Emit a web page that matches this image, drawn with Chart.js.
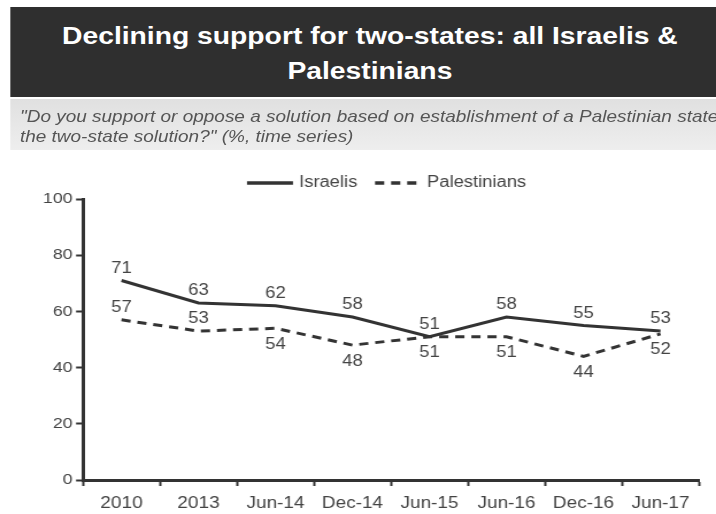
<!DOCTYPE html>
<html>
<head>
<meta charset="utf-8">
<script src="https://cdn.jsdelivr.net/npm/chart.js@4"></script>
<style>
  html, body { margin: 0; padding: 0; background: #fff; width: 716px; height: 514px; overflow: hidden; }
  #page { position: absolute; left: 0; top: 0; width: 623px; height: 514px; transform-origin: 0 0; transform: scaleX(1.1493); }
  #header { position: absolute; left: 8.7px; top: 7px; width: 614.3px; height: 90px; background: #2f2f2f;
    color: #fff; font-family: "Liberation Sans", Arial, sans-serif; font-weight: bold; font-size: 24.6px;
    text-align: center; line-height: 35px; box-sizing: border-box; padding-top: 11px; padding-left: 12px; }
  #sub { position: absolute; left: 8.7px; top: 99px; width: 614.3px; height: 51px;
    background: linear-gradient(#e0e0e0, #eeeeee); color: #555; font-family: "Liberation Sans", Arial, sans-serif;
    font-style: italic; font-size: 16.5px; line-height: 20px; white-space: nowrap; overflow: hidden;
    box-sizing: border-box; padding-left: 8.7px; padding-top: 7px; }
  #wrap { position: absolute; left: 0; top: 150px; width: 623px; height: 364px; }
</style>
</head>
<body>
<div id="page">
<div id="header">Declining support for two-states: all Israelis &amp;<br>Palestinians</div>
<div id="sub">"Do you support or oppose a solution based on establishment of a Palestinian state alongside Israel, known as<br>the two-state solution?" (%, time series)</div>
<div id="wrap"><canvas id="c"></canvas></div>
</div>
<script>
const categories = ["2010", "2013", "Jun-14", "Dec-14", "Jun-15", "Jun-16", "Dec-16", "Jun-17"];
const israelis = [71, 63, 62, 58, 51, 58, 55, 53];
const palestinians = [57, 53, 54, 48, 51, 51, 44, 52];
const yTicks = [0, 20, 40, 60, 80, 100];

const FONT = "'Liberation Sans', Arial, sans-serif";
const INK = "#333333";
const TXT = "#444444";

const labelPlugin = {
  id: 'valueLabels',
  afterDatasetsDraw(chart) {
    const ctx = chart.ctx;
    ctx.save();
    ctx.font = "16px " + FONT;
    ctx.fillStyle = TXT;
    ctx.textAlign = 'center';
    ctx.textBaseline = 'middle';
    chart.data.datasets.forEach((ds, di) => {
      const meta = chart.getDatasetMeta(di);
      meta.data.forEach((pt, i) => {
        const dy = ds.labelPos[i] === 'above' ? -12 : 16;
        ctx.fillText(String(ds.data[i]), pt.x, pt.y + dy);
      });
    });
    ctx.restore();
  }
};

const legendPlugin = {
  id: 'customLegend',
  afterDraw(chart) {
    const ctx = chart.ctx;
    ctx.save();
    ctx.font = "16px " + FONT;
    ctx.textBaseline = 'middle';
    const items = [{x: 214.9, ds: chart.data.datasets[0]}, {x: 326.3, ds: chart.data.datasets[1]}];
    const y = 33;
    items.forEach(it => {
      ctx.strokeStyle = it.ds.borderColor;
      ctx.lineWidth = 3.5;
      ctx.setLineDash(it.ds.borderDash || []);
      ctx.beginPath();
      ctx.moveTo(it.x, y);
      ctx.lineTo(it.x + 40, y);
      ctx.stroke();
      ctx.setLineDash([]);
      ctx.fillStyle = TXT;
      ctx.textAlign = 'left';
      ctx.fillText(it.ds.label, it.x + 45.3, y);
    });
    ctx.restore();
  }
};

new Chart(document.getElementById('c'), {
  type: 'line',
  data: {
    labels: categories,
    datasets: [
      { label: 'Israelis', data: israelis, borderColor: INK, borderWidth: 3, pointRadius: 0, tension: 0,
        labelPos: ['above','above','above','above','above','above','above','above'] },
      { label: 'Palestinians', data: palestinians, borderColor: INK, borderWidth: 3, borderDash: [8, 6], pointRadius: 0, tension: 0,
        labelPos: ['above','above','below','below','below','below','below','below'] }
    ]
  },
  options: {
    responsive: true,
    maintainAspectRatio: false,
    animation: false,
    events: [],
    layout: { padding: { top: 49, right: 14.8, left: 0, bottom: 0 } },
    plugins: { legend: { display: false }, tooltip: { enabled: false } },
    scales: {
      x: {
        offset: true,
        grid: { offset: true, drawOnChartArea: false, tickLength: 6, tickWidth: 2,
          tickColor: (c) => c.index === categories.length ? 'rgba(0,0,0,0)' : INK },
        border: { color: INK, width: 3 },
        ticks: { font: { family: FONT, size: 16.5 }, color: TXT, padding: 8, maxRotation: 0, autoSkip: false },
        afterFit: (s) => { s.height = 34; }
      },
      y: {
        min: 0, max: 100,
        afterBuildTicks: (s) => { s.ticks = yTicks.map(v => ({ value: v })); },
        grid: { drawOnChartArea: false, tickLength: 6, tickWidth: 2, tickColor: INK },
        border: { color: INK, width: 3 },
        ticks: { font: { family: FONT, size: 15.5 }, color: TXT, padding: 3 },
        afterFit: (s) => { s.width = 72.2; }
      }
    }
  },
  plugins: [labelPlugin, legendPlugin]
});
</script>
</body>
</html>
